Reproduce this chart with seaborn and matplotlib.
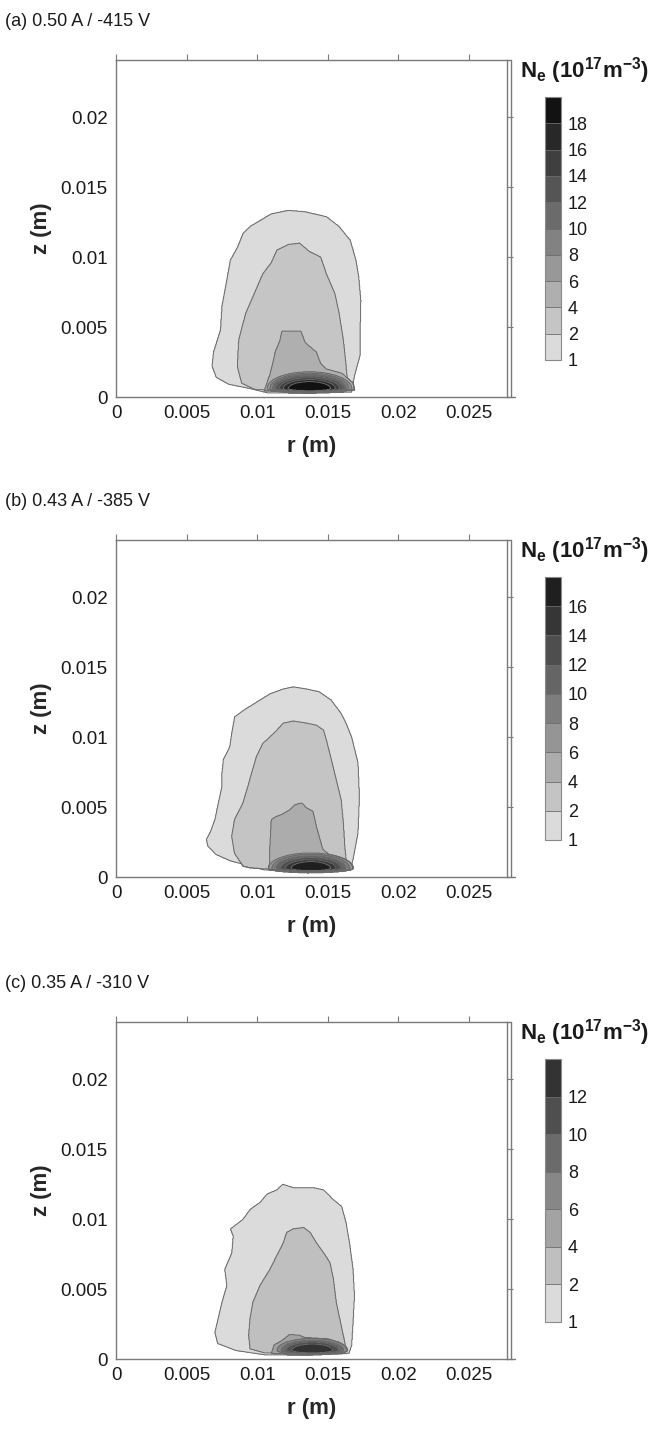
import numpy as np
import matplotlib
matplotlib.use("Agg")
import matplotlib.pyplot as plt
from matplotlib.path import Path
from matplotlib.ticker import FuncFormatter
import seaborn as sns

# ---- data (lengths in mm, densities in 1e17 m^-3) ----
titles = ["(a) 0.50 A / -415 V", "(b) 0.43 A / -385 V", "(c) 0.35 A / -310 V"]

levels_a = [1, 2, 4, 6, 8, 10, 12, 14, 16, 18, 20]
levels_b = [1, 2, 4, 6, 8, 10, 12, 14, 16, 18]
levels_c = [1, 2, 4, 6, 8, 10, 12, 14]

# outer contour outlines (r, z) for levels 1, 2 and 4
a_n1 = [(7.1, 1.4), (8.0, 0.9), (9.5, 0.6), (10.7, 0.3), (13.5, 0.25), (16.7, 0.35),
        (16.9, 1.5), (17.3, 3.0), (17.3, 4.6), (17.35, 6.9), (17.2, 8.6), (17.0, 9.8),
        (16.6, 11.2), (15.8, 12.2), (14.9, 12.9), (13.4, 13.25), (12.2, 13.35),
        (11.0, 13.1), (9.5, 12.2), (9.0, 11.7), (8.6, 10.7), (8.1, 9.8), (7.8, 8.1),
        (7.5, 6.5), (7.4, 4.8), (6.9, 3.2), (6.8, 2.2)]
a_n2 = [(8.9, 1.0), (8.6, 2.2), (8.7, 4.1), (9.2, 6.0), (9.8, 7.4), (10.4, 8.8),
        (11.0, 9.6), (11.4, 10.5), (12.2, 10.9), (13.0, 11.0), (13.7, 10.4), (14.5, 10.0),
        (14.9, 8.8), (15.5, 7.4), (15.8, 6.0), (16.1, 4.1), (16.3, 2.2), (16.4, 1.0),
        (16.2, 0.45), (13.5, 0.35), (9.8, 0.55)]
a_n4 = [(10.5, 0.45), (10.9, 1.6), (11.1, 2.4), (11.3, 3.3), (11.6, 4.0), (11.75, 4.7),
        (13.1, 4.7), (13.4, 3.9), (14.2, 3.2), (14.5, 2.4), (14.9, 2.0), (16.0, 1.7),
        (16.8, 1.0), (16.9, 0.5), (13.6, 0.28)]

b_n1 = [(6.4, 2.7), (6.5, 2.2), (7.1, 1.6), (8.1, 1.15), (9.5, 0.78), (10.5, 0.5),
        (13.5, 0.35), (16.6, 0.55), (16.8, 1.26), (17.15, 3.15), (17.25, 5.75),
        (17.15, 8.15), (16.7, 10.0), (16.3, 11.0), (15.95, 11.7), (15.25, 12.65),
        (14.4, 13.25), (13.5, 13.45), (12.55, 13.6), (11.85, 13.45), (10.9, 13.1),
        (9.95, 12.5), (9.0, 11.9), (8.4, 11.45), (8.2, 10.3), (8.05, 9.3), (7.6, 8.4),
        (7.5, 7.4), (7.5, 6.5), (7.25, 5.3), (7.0, 4.1), (6.65, 3.15)]
b_n2 = [(9.0, 0.78), (8.4, 1.7), (8.2, 2.9), (8.4, 4.1), (9.0, 5.3), (9.35, 6.5),
        (9.6, 7.4), (9.95, 8.6), (10.4, 9.55), (10.9, 10.0), (11.4, 10.5), (11.85, 11.0),
        (12.55, 11.15), (13.5, 11.0), (14.2, 10.85), (14.7, 10.5), (14.9, 9.8),
        (15.25, 8.4), (15.6, 6.95), (15.95, 5.5), (16.1, 3.9), (16.2, 2.2), (16.3, 1.25),
        (16.1, 0.5), (13.5, 0.4), (9.5, 0.65)]
b_n4 = [(10.9, 0.6), (10.9, 2.2), (11.0, 4.1), (11.4, 4.35), (11.7, 4.45), (12.3, 4.8),
        (12.65, 5.15), (13.15, 5.3), (13.5, 4.95), (13.95, 4.7), (14.2, 3.6),
        (14.45, 2.7), (14.65, 2.0), (15.15, 1.55), (16.2, 1.1), (16.5, 0.6), (13.6, 0.3)]

c_n1 = [(7.0, 1.9), (7.2, 1.1), (8.5, 0.6), (10.5, 0.3), (13.5, 0.25), (16.5, 0.4),
        (16.7, 0.97), (16.8, 2.6), (16.9, 4.5), (16.8, 6.4), (16.55, 8.3), (16.3, 9.75),
        (16.0, 10.9), (15.4, 11.4), (14.7, 12.1), (14.0, 12.25), (12.6, 12.25),
        (11.8, 12.5), (11.4, 12.1), (10.7, 11.8), (10.2, 11.2), (9.5, 10.7), (9.0, 10.0),
        (8.1, 9.3), (8.3, 8.8), (8.2, 7.6), (7.7, 6.4), (7.85, 5.25), (7.5, 4.05)]
c_n2 = [(9.5, 0.73), (9.4, 1.7), (9.5, 2.9), (9.7, 4.05), (10.2, 5.25), (10.9, 6.4),
        (11.4, 7.4), (11.85, 8.3), (12.1, 9.05), (12.55, 9.3), (13.3, 9.4), (13.75, 9.05),
        (14.2, 8.3), (14.7, 7.6), (15.15, 6.9), (15.4, 5.7), (15.6, 4.05), (16.0, 2.15),
        (16.3, 0.73), (16.0, 0.4), (13.5, 0.35), (10.5, 0.45)]
c_n4 = [(11.0, 0.4), (11.2, 1.0), (11.8, 1.35), (12.1, 1.6), (12.3, 1.75), (13.0, 1.7),
        (13.3, 1.55), (14.0, 1.5), (15.0, 1.45), (15.8, 1.2), (16.3, 0.8), (16.2, 0.4),
        (13.6, 0.3)]

# dense core near the cathode: centre, and per level half width / height up / height down
a_core_rc, a_core_zc = 13.7, 0.6
a_core_lv = [6, 8, 10, 12, 14, 16, 18]
a_core_rw = [3.0, 2.8, 2.6, 2.4, 2.15, 1.85, 1.5]
a_core_zup = [1.2, 1.1, 1.0, 0.9, 0.78, 0.65, 0.5]
a_core_zdn = [0.3, 0.28, 0.26, 0.24, 0.22, 0.19, 0.15]

b_core_rc, b_core_zc = 13.8, 0.62
b_core_lv = [6, 8, 10, 12, 14, 16]
b_core_rw = [3.0, 2.75, 2.45, 2.15, 1.8, 1.4]
b_core_zup = [1.1, 1.0, 0.88, 0.76, 0.62, 0.48]
b_core_zdn = [0.3, 0.28, 0.26, 0.23, 0.2, 0.16]

c_core_rc, c_core_zc = 13.9, 0.62
c_core_lv = [6, 8, 10, 12]
c_core_rw = [2.5, 2.2, 1.85, 1.45]
c_core_zup = [0.85, 0.72, 0.6, 0.45]
c_core_zdn = [0.3, 0.27, 0.23, 0.18]

darkest = [0.07, 0.12, 0.2]

# ---- style ----
sns.set_theme(style="white")
plt.rcParams['font.family'] = ['Liberation Sans', 'DejaVu Sans']
plt.rcParams['mathtext.fontset'] = 'custom'
plt.rcParams['mathtext.rm'] = 'Liberation Sans'
plt.rcParams['mathtext.bf'] = 'Liberation Sans:bold'
plt.rcParams['mathtext.default'] = 'bf'
plt.rcParams['axes.unicode_minus'] = False

W, H = 667, 1429
fig = plt.figure(figsize=(W / 100, H / 100), dpi=100)


def px_axes(left, top, width, height):
    return fig.add_axes([left / W, 1 - (top + height) / H, width / W, height / H])


r_mm = np.linspace(0, 28, 900)
z_mm = np.linspace(0, 24.2, 800)
R, Z = np.meshgrid(r_mm, z_mm)
pts = np.column_stack([R.ravel(), Z.ravel()])


def build_field(levels, outlines, rc, zc, core_lv, rw, zup, zdn):
    F = np.zeros_like(R)
    mid = {lv: 0.5 * (lv + levels[i + 1]) for i, lv in enumerate(levels[:-1])}
    for lv, poly in outlines:
        inside = Path(poly).contains_points(pts).reshape(R.shape)
        F = np.where(inside, np.maximum(F, mid[lv]), F)
    for lv, a, bu, bd in zip(core_lv, rw, zup, zdn):
        zh = np.where(Z >= zc, bu, bd)
        inside = ((R - rc) / a) ** 2 + ((Z - zc) / zh) ** 2 <= 1
        F = np.where(inside, np.maximum(F, mid[lv]), F)
    return F


panels = [
    (levels_a, [(1, a_n1), (2, a_n2), (4, a_n4)], a_core_rc, a_core_zc, a_core_lv, a_core_rw, a_core_zup, a_core_zdn),
    (levels_b, [(1, b_n1), (2, b_n2), (4, b_n4)], b_core_rc, b_core_zc, b_core_lv, b_core_rw, b_core_zup, b_core_zdn),
    (levels_c, [(1, c_n1), (2, c_n2), (4, c_n4)], c_core_rc, c_core_zc, c_core_lv, c_core_rw, c_core_zup, c_core_zdn),
]

tops = [60, 540, 1022]
ax_h = 337
ax_left, ax_w = 116, 391
line_c = '#7a7a7a'
fmt = FuncFormatter(lambda v, p: '%g' % v)

for i, (levels, outlines, rc, zc, core_lv, rw, zup, zdn) in enumerate(panels):
    top = tops[i]
    ax = px_axes(ax_left, top, ax_w, ax_h)
    F = build_field(levels, outlines, rc, zc, core_lv, rw, zup, zdn)
    nseg = len(levels) - 1
    greys = np.linspace(0.86, darkest[i], nseg)
    cols = [(g, g, g) for g in greys]
    cs = ax.contourf(R / 1000, Z / 1000, F, levels=levels, colors=cols)
    ax.contour(R / 1000, Z / 1000, F, levels=levels, colors='#6a6a6a', linewidths=0.7)

    ax.set_xlim(0, 0.0277)
    ax.set_ylim(0, 0.0241)
    ax.set_xticks([0, 0.005, 0.01, 0.015, 0.02, 0.025])
    ax.set_yticks([0, 0.005, 0.01, 0.015, 0.02])
    ax.xaxis.set_major_formatter(fmt)
    ax.yaxis.set_major_formatter(fmt)
    ax.tick_params(direction='out', length=4, width=0.8, color=line_c, labelsize=13.5,
                   pad=2, top=True, right=True, labelcolor='#1a1a1a')
    for s in ax.spines.values():
        s.set_color(line_c)
        s.set_linewidth(1.0)
    # second frame line on the right and short spine extensions
    ax.plot([1.011, 1.011], [0, 1], transform=ax.transAxes, color=line_c, lw=1.0, clip_on=False)
    ax.plot([1.0, 1.011], [1, 1], transform=ax.transAxes, color=line_c, lw=1.0, clip_on=False)
    ax.plot([1.0, 1.02], [0, 0], transform=ax.transAxes, color=line_c, lw=1.0, clip_on=False)

    ax.set_xlabel('r (m)', fontsize=16, fontweight='bold', labelpad=10)
    ax.set_ylabel('z (m)', fontsize=16, fontweight='bold', labelpad=6)
    fig.text(5 / W, 1 - (top - 38) / H, titles[i], fontsize=13, ha='left', va='center',
             color='#1a1a1a')

    cax = px_axes(545, top + 37, 16, 263)
    cbar = fig.colorbar(cs, cax=cax, ticks=levels[:-1], drawedges=True)
    cbar.outline.set_edgecolor('#8a8a8a')
    cbar.outline.set_linewidth(0.8)
    cbar.dividers.set_color('#6a6a6a')
    cbar.dividers.set_linewidth(0.6)
    cbar.ax.tick_params(length=0, labelsize=13, pad=5, labelcolor='#1a1a1a')
    fig.text(520 / W, 1 - (top + 11) / H, 'N$_e$ (10$^{17}$m$^{-3}$)', fontsize=16,
             fontweight='bold', ha='left', va='center', color='#1a1a1a')

fig.savefig('out.png', dpi=100)
